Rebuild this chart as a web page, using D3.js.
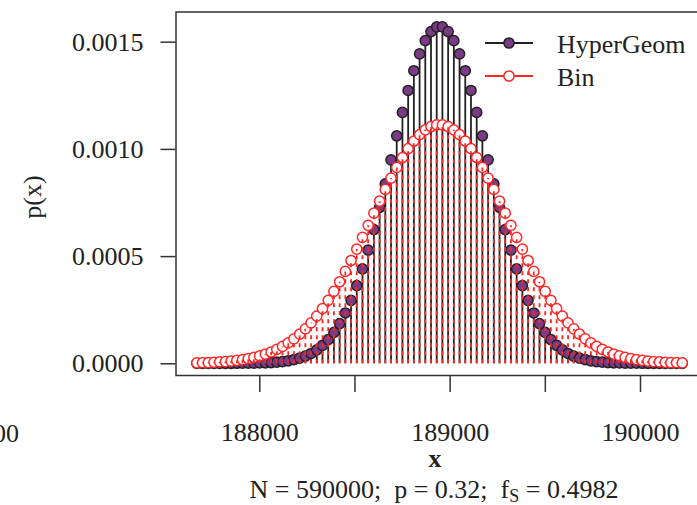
<!DOCTYPE html>
<html>
<head>
<meta charset="utf-8">
<script src="https://cdn.jsdelivr.net/npm/d3@7"></script>
<style>
  body { margin: 0; background: #fff; }
  svg { display: block; font-family: "Liberation Serif", "Times New Roman", serif; }
  text { white-space: pre; }
</style>
</head>
<body>
<svg id="chart" width="697" height="505"></svg>
<script>
// x values (support points shown in the plot)
var xVals = [187672, 187702, 187732, 187762, 187792, 187822, 187852, 187882, 187912, 187942,
             187972, 188002, 188032, 188062, 188092, 188122, 188152, 188182, 188212, 188242,
             188272, 188302, 188332, 188362, 188392, 188422, 188452, 188482, 188512, 188542,
             188572, 188602, 188632, 188662, 188692, 188722, 188752, 188782, 188812, 188842,
             188872, 188902, 188932, 188962, 188992, 189022, 189052, 189082, 189112, 189142,
             189172, 189202, 189232, 189262, 189292, 189322, 189352, 189382, 189412, 189442,
             189472, 189502, 189532, 189562, 189592, 189622, 189652, 189682, 189712, 189742,
             189772, 189802, 189832, 189862, 189892, 189922, 189952, 189982, 190012, 190042,
             190072, 190102, 190132, 190162, 190192, 190222];

// hypergeometric p(x)
var hyperVals = [0, 0, 0, 0, 0.0000001, 0.0000001, 0.0000001, 0.0000002, 0.0000004, 0.0000006,
                 0.0000010, 0.0000015, 0.0000024, 0.0000036, 0.0000054, 0.0000080, 0.0000116, 0.0000167, 0.0000237, 0.0000332,
                 0.0000458, 0.0000622, 0.0000834, 0.0001104, 0.0001439, 0.0001851, 0.0002347, 0.0002935, 0.0003619, 0.0004401,
                 0.0005277, 0.0006240, 0.0007277, 0.0008368, 0.0009490, 0.0010612, 0.0011702, 0.0012725, 0.0013646, 0.0014431,
                 0.0015048, 0.0015475, 0.0015693, 0.0015693, 0.0015475, 0.0015048, 0.0014431, 0.0013646, 0.0012725, 0.0011702,
                 0.0010612, 0.0009490, 0.0008368, 0.0007277, 0.0006240, 0.0005277, 0.0004401, 0.0003619, 0.0002935, 0.0002347,
                 0.0001851, 0.0001439, 0.0001104, 0.0000834, 0.0000622, 0.0000458, 0.0000332, 0.0000237, 0.0000167, 0.0000116,
                 0.0000080, 0.0000054, 0.0000036, 0.0000024, 0.0000015, 0.0000010, 0.0000006, 0.0000004, 0.0000002, 0.0000001,
                 0.0000001, 0.0000001, 0, 0, 0, 0];

// binomial p(x)
var binVals = [0.0000020, 0.0000027, 0.0000035, 0.0000047, 0.0000062, 0.0000080, 0.0000104, 0.0000134, 0.0000172, 0.0000218,
               0.0000274, 0.0000343, 0.0000427, 0.0000527, 0.0000646, 0.0000786, 0.0000950, 0.0001139, 0.0001357, 0.0001606,
               0.0001887, 0.0002202, 0.0002551, 0.0002935, 0.0003353, 0.0003804, 0.0004286, 0.0004795, 0.0005326, 0.0005876,
               0.0006436, 0.0007001, 0.0007562, 0.0008112, 0.0008640, 0.0009138, 0.0009598, 0.0010010, 0.0010367, 0.0010662,
               0.0010889, 0.0011043, 0.0011120, 0.0011120, 0.0011043, 0.0010889, 0.0010662, 0.0010367, 0.0010010, 0.0009598,
               0.0009138, 0.0008640, 0.0008112, 0.0007562, 0.0007001, 0.0006436, 0.0005876, 0.0005326, 0.0004795, 0.0004286,
               0.0003804, 0.0003353, 0.0002935, 0.0002551, 0.0002202, 0.0001887, 0.0001606, 0.0001357, 0.0001139, 0.0000950,
               0.0000786, 0.0000646, 0.0000527, 0.0000427, 0.0000343, 0.0000274, 0.0000218, 0.0000172, 0.0000134, 0.0000104,
               0.0000080, 0.0000062, 0.0000047, 0.0000035, 0.0000027, 0.0000020];

var xTicks = [188000, 188500, 189000, 189500, 190000];
var xTickLabels = ["188000", "", "189000", "", "190000"];
var yTicks = [0, 0.0005, 0.0010, 0.0015];
var yTickLabels = ["0.0000", "0.0005", "0.0010", "0.0015"];
var seriesNames = ["HyperGeom", "Bin"];

var purple = "#7b3a86",
    dark = "#222",
    red = "#ff2626",
    fontSize = 26,
    ptR = 5.1;

var svg = d3.select("#chart");
var box = { left: 176, top: 12, right: 720, bottom: 375.5 };

var x = d3.scaleLinear().domain([188000, 190000]).range([259.3, 640]);
var y = d3.scaleLinear().domain([0, 0.0015]).range([363.3, 41.7]);

var data = xVals.map(function (v, i) { return { x: v, h: hyperVals[i], b: binVals[i] }; });

// hypergeometric spikes
svg.append("g").selectAll("line")
    .data(data)
    .enter().append("line")
      .attr("x1", function (d) { return x(d.x); })
      .attr("x2", function (d) { return x(d.x); })
      .attr("y1", y(0))
      .attr("y2", function (d) { return y(d.h); })
      .attr("stroke", dark)
      .attr("stroke-width", 1.8);

svg.append("g").selectAll("circle")
    .data(data)
    .enter().append("circle")
      .attr("cx", function (d) { return x(d.x); })
      .attr("cy", function (d) { return y(d.h); })
      .attr("r", ptR)
      .attr("fill", purple)
      .attr("stroke", dark)
      .attr("stroke-width", 1.5);

svg.append("g").selectAll("circle")
    .data(data)
    .enter().append("circle")
      .attr("cx", function (d) { return x(d.x); })
      .attr("cy", function (d) { return y(d.b); })
      .attr("r", ptR)
      .attr("fill", "#fff")
      .attr("stroke", red)
      .attr("stroke-width", 1.5);

// binomial spikes, dashed, drawn from zero upwards
svg.append("g").selectAll("line")
    .data(data)
    .enter().append("line")
      .attr("x1", function (d) { return x(d.x); })
      .attr("x2", function (d) { return x(d.x); })
      .attr("y1", y(0))
      .attr("y2", function (d) { return y(d.b); })
      .attr("stroke", red)
      .attr("stroke-width", 1.8)
      .attr("stroke-dasharray", "4,4");

// frame
svg.append("rect")
    .attr("x", box.left)
    .attr("y", box.top)
    .attr("width", box.right - box.left)
    .attr("height", box.bottom - box.top)
    .attr("fill", "none")
    .attr("stroke", "#333")
    .attr("stroke-width", 1.5);

// axes
var xAxis = svg.append("g")
    .attr("transform", "translate(0," + 376 + ")")
    .call(d3.axisBottom(x).tickValues(xTicks).tickSize(16).tickPadding(31)
        .tickFormat(function (d, i) { return xTickLabels[i]; }));

var yAxis = svg.append("g")
    .attr("transform", "translate(" + 175.5 + ",0)")
    .call(d3.axisLeft(y).tickValues(yTicks).tickSize(15).tickPadding(17)
        .tickFormat(function (d, i) { return yTickLabels[i]; }));

[xAxis, yAxis].forEach(function (g) {
    g.select(".domain").remove();
    g.selectAll(".tick line").attr("stroke", "#333").attr("stroke-width", 1.5);
    g.selectAll(".tick text")
        .attr("fill", "#222")
        .style("font-family", "Liberation Serif, Times New Roman, serif")
        .style("font-size", fontSize + "px");
});

// stray label from the neighbouring panel
svg.append("text")
    .attr("x", 19)
    .attr("y", 441.7)
    .attr("text-anchor", "end")
    .attr("font-size", fontSize)
    .attr("fill", "#222")
    .text("00");

// axis titles
svg.append("text")
    .attr("x", 435)
    .attr("y", 467)
    .attr("text-anchor", "middle")
    .attr("font-size", fontSize)
    .attr("font-weight", "bold")
    .attr("fill", "#222")
    .text("x");

svg.append("text")
    .attr("transform", "translate(41,197) rotate(-90)")
    .attr("text-anchor", "middle")
    .attr("font-size", fontSize)
    .attr("fill", "#222")
    .text("p(x)");

var sub = svg.append("text")
    .attr("x", 434)
    .attr("y", 498)
    .attr("text-anchor", "middle")
    .attr("font-size", fontSize)
    .attr("fill", "#222");
sub.append("tspan").text("N = 590000;  p = 0.32;  f");
sub.append("tspan").attr("font-size", 18).attr("dy", 4).text("S");
sub.append("tspan").attr("dy", -4).text(" = 0.4982");

// legend
var legend = svg.append("g");
var legendY = [43, 76];
seriesNames.forEach(function (name, i) {
    var col = i === 0 ? dark : red;
    legend.append("line")
        .attr("x1", 485).attr("x2", 533)
        .attr("y1", legendY[i]).attr("y2", legendY[i])
        .attr("stroke", col)
        .attr("stroke-width", 1.8);
    legend.append("circle")
        .attr("cx", 509).attr("cy", legendY[i])
        .attr("r", ptR)
        .attr("fill", i === 0 ? purple : "#fff")
        .attr("stroke", col)
        .attr("stroke-width", 1.5);
    legend.append("text")
        .attr("x", 557)
        .attr("y", legendY[i] + 9.5)
        .attr("font-size", fontSize)
        .attr("fill", "#222")
        .text(name);
});
</script>
</body>
</html>
